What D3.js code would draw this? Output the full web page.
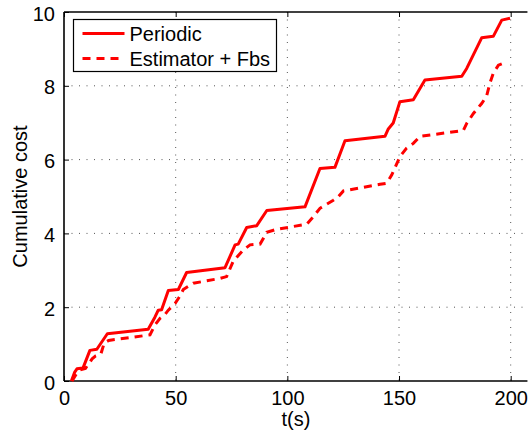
<!DOCTYPE html>
<html>
<head>
<meta charset="utf-8">
<script src="https://cdn.jsdelivr.net/npm/d3@7"></script>
<style>
  html, body { margin: 0; padding: 0; background: #fff; }
  svg { display: block; }
  text { font-family: "Liberation Sans", Arial, Helvetica, sans-serif; fill: #000; }
</style>
</head>
<body>
<svg id="chart" width="528" height="433"></svg>
<script>
// ---- data ----
const periodicT = [3.3, 4.8, 5.8, 8.5, 11.6, 14.7, 19.4, 37.7, 40.7, 42.2, 43.7, 46.7, 51.2, 54.9, 72.1, 76.6, 78.0, 81.8, 86.3, 90.8, 107.9, 114.6, 121.3, 125.8, 143.7, 145.2, 147.4, 150.4, 156.4, 161.6, 178.1, 180.3, 187.0, 192.2, 196.0, 199.7];
const periodicY = [0.0, 0.24, 0.33, 0.35, 0.83, 0.86, 1.28, 1.40, 1.73, 1.92, 1.93, 2.45, 2.48, 2.94, 3.07, 3.69, 3.71, 4.16, 4.21, 4.62, 4.72, 5.76, 5.79, 6.51, 6.63, 6.83, 6.99, 7.57, 7.62, 8.16, 8.26, 8.47, 9.30, 9.34, 9.78, 9.83];

const estimT = [3.6, 5.6, 7.2, 9.6, 12.6, 14.2, 16.5, 18.0, 20.0, 38.5, 40.7, 43.0, 45.2, 46.7, 49.7, 51.9, 53.4, 57.9, 69.8, 72.8, 75.8, 80.3, 83.3, 87.8, 90.8, 95.2, 108.7, 111.6, 114.6, 120.6, 122.8, 125.1, 141.5, 144.5, 146.7, 150.4, 153.4, 156.4, 159.4, 178.8, 180.3, 183.3, 187.0, 189.2, 190.7, 192.2, 194.5, 197.4];
const estimY = [0.0, 0.2, 0.3, 0.34, 0.6, 0.68, 0.73, 1.03, 1.10, 1.25, 1.52, 1.70, 1.80, 1.92, 2.10, 2.30, 2.48, 2.65, 2.78, 2.83, 3.25, 3.55, 3.69, 3.71, 4.03, 4.11, 4.25, 4.45, 4.68, 4.90, 4.99, 5.15, 5.33, 5.36, 5.58, 6.08, 6.31, 6.44, 6.63, 6.79, 6.98, 7.25, 7.52, 7.72, 8.07, 8.34, 8.56, 8.63];

const xTicks = [0, 50, 100, 150, 200];
const yTicks = [0, 2, 4, 6, 8, 10];
const seriesNames = ["Periodic", "Estimator + Fbs"];
const xLabel = "t(s)";
const yLabel = "Cumulative cost";

(function () {
  const svg = d3.select("#chart");
  const L = 64, T = 12, B = 381;
  const x = d3.scaleLinear().domain([0, 200]).range([L, 510.7]);
  const xMax = 207.5;            // axes box extends past the picture edge
  const y = d3.scaleLinear().domain([0, 10]).range([B, T]);
  const R = x(xMax);

  // grid
  const grid = svg.append("g").attr("stroke", "#555").attr("stroke-width", 1)
    .attr("stroke-dasharray", "1,6.5");
  grid.selectAll("line.gx").data(xTicks.filter(d => d > 0)).enter().append("line")
    .attr("x1", d => x(d)).attr("x2", d => x(d)).attr("y1", T).attr("y2", B);
  grid.selectAll("line.gy").data(yTicks.filter(d => d > 0 && d < 10)).enter().append("line")
    .attr("y1", d => y(d)).attr("y2", d => y(d)).attr("x1", L).attr("x2", R);

  // axes (inward ticks)
  const xAxisB = d3.axisBottom(x).tickValues(xTicks).tickSizeInner(-5).tickSizeOuter(0).tickPadding(10).tickFormat(d3.format("d"));
  const xAxisT = d3.axisTop(x).tickValues(xTicks).tickSizeInner(-5).tickSizeOuter(0).tickFormat("");
  const yAxisL = d3.axisLeft(y).tickValues(yTicks).tickSizeInner(-5).tickSizeOuter(0).tickPadding(9).tickFormat(d3.format("d"));

  const gxB = svg.append("g").attr("transform", `translate(0,${B})`).call(xAxisB);
  const gxT = svg.append("g").attr("transform", `translate(0,${T})`).call(xAxisT);
  const gyL = svg.append("g").attr("transform", `translate(${L},0)`).call(yAxisL);
  [gxB, gxT, gyL].forEach(g => {
    g.select(".domain").remove();
    g.selectAll(".tick line").attr("stroke", "#000").attr("stroke-width", 1);
    g.selectAll("text").attr("font-size", 20).attr("font-family", "Liberation Sans, Arial, sans-serif").attr("fill", "#000");
  });
  gyL.selectAll("text").attr("dy", "0.4em");
  gxB.selectAll("text").attr("dy", "0.72em");

  // box lines
  svg.append("line").attr("x1", L).attr("x2", R).attr("y1", B).attr("y2", B).attr("stroke", "#000").attr("stroke-width", 1.6);
  svg.append("line").attr("x1", L).attr("x2", R).attr("y1", T).attr("y2", T).attr("stroke", "#000").attr("stroke-width", 1.6);
  svg.append("line").attr("x1", L).attr("x2", L).attr("y1", T).attr("y2", B).attr("stroke", "#000").attr("stroke-width", 1.6);

  // series
  const line = d3.line().x(d => x(d[0])).y(d => y(d[1]));
  const periodic = periodicT.map((t, i) => [t, periodicY[i]]);
  const estim = estimT.map((t, i) => [t, estimY[i]]);
  svg.append("path").datum(estim).attr("d", line).attr("fill", "none")
    .attr("stroke", "#ff0000").attr("stroke-width", 3).attr("stroke-dasharray", "8,6");
  svg.append("path").datum(periodic).attr("d", line).attr("fill", "none")
    .attr("stroke", "#ff0000").attr("stroke-width", 3).attr("stroke-linejoin", "round");

  // axis labels
  svg.append("text").attr("x", 296).attr("y", 426).attr("text-anchor", "middle").attr("font-size", 20).text(xLabel);
  svg.append("text").attr("transform", `translate(27,${(T + B) / 2}) rotate(-90)`)
    .attr("text-anchor", "middle").attr("font-size", 20).text(yLabel);

  // legend
  const lg = svg.append("g");
  lg.append("rect").attr("x", 73.5).attr("y", 19.5).attr("width", 203).attr("height", 52)
    .attr("fill", "#fff").attr("stroke", "#000").attr("stroke-width", 1.2);
  const legendRows = [{ name: seriesNames[0], dash: null, yy: 33.5 }, { name: seriesNames[1], dash: "8,6", yy: 58.5 }];
  legendRows.forEach(r => {
    const l = lg.append("line").attr("x1", 82.5).attr("x2", 124.5).attr("y1", r.yy).attr("y2", r.yy)
      .attr("stroke", "#ff0000").attr("stroke-width", 3);
    if (r.dash) l.attr("stroke-dasharray", r.dash);
    lg.append("text").attr("x", 129.5).attr("y", r.yy + 7).attr("font-size", 20).text(r.name);
  });
})();
</script>
</body>
</html>
